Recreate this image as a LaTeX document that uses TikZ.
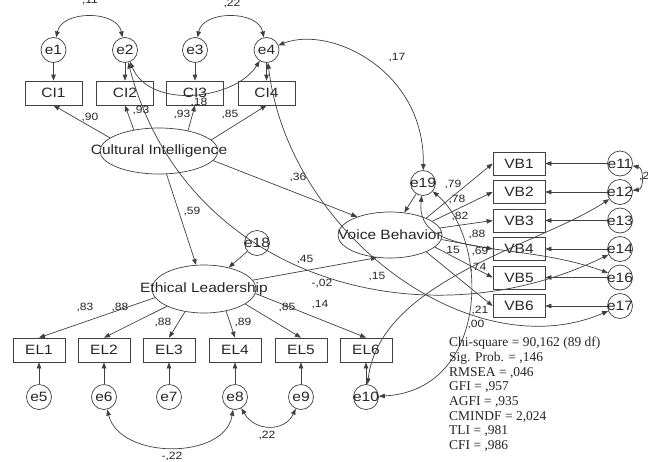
\documentclass[tikz,border=0pt]{standalone}
\usepackage{fontspec}
\setmainfont{Liberation Sans}[FakeStretch=1.15]
\newfontfamily\statfont{Liberation Serif}
\usetikzlibrary{arrows.meta,shapes.geometric}
\definecolor{lc}{HTML}{404040}
\definecolor{txt}{HTML}{262626}
\begin{document}
\begin{tikzpicture}[x=1pt,y=-1pt,
  every node/.style={text=txt},
  ln/.style={draw=lc, line width=0.7pt},
  tip/.style={-{Triangle[length=6pt,width=4.5pt]}},
  cov/.style={{Triangle[length=6pt,width=4.5pt]}-{Triangle[length=6pt,width=4.5pt]}},
  lbl/.style={font=\fontsize{13.5}{15}\selectfont, inner sep=0pt, text=txt},
  obs/.style={draw=lc, line width=0.7pt, minimum width=#1, minimum height=24pt, inner sep=0pt, font=\fontsize{13.5}{15}\selectfont},
  err/.style={circle, draw=lc, line width=0.7pt, minimum size=25pt, inner sep=0pt},
  lat/.style={ellipse, draw=lc, line width=0.7pt, inner sep=0pt},
  num/.style={font=\fontsize{10.5}{12}\selectfont, inner sep=0pt},
]
\useasboundingbox (0,0) rectangle (648,461);
\fill[white] (0,0) rectangle (648,461);

% ---------- Cultural Intelligence block ----------
\node[obs=57pt] (CI1) at (53.5,93) {CI1};
\node[obs=57pt] (CI2) at (125,93) {CI2};
\node[obs=57pt] (CI3) at (195,93) {CI3};
\node[obs=57pt] (CI4) at (266.5,93) {CI4};
\node[err, label={[lbl]center:e1}] (e1) at (53.5,50) {};
\node[err, label={[lbl]center:e2}] (e2) at (125,50) {};
\node[err, label={[lbl]center:e3}] (e3) at (195,50) {};
\node[err, label={[lbl]center:e4}] (e4) at (266.5,50) {};
\node[lat, minimum width=118pt, minimum height=46pt,
      label={[lbl,font=\fontsize{13.5}{15}\selectfont]center:Cultural Intelligence}] (CI) at (159,151) {};

% ---------- Ethical Leadership block ----------
\node[lat, minimum width=104pt, minimum height=48pt,
      label={[lbl,font=\fontsize{13.5}{15}\selectfont]center:Ethical Leadership}] (EL) at (204,289) {};
\node[obs=52pt] (EL1) at (39,350) {EL1};
\node[obs=52pt] (EL2) at (104,350) {EL2};
\node[obs=52pt] (EL3) at (169,350) {EL3};
\node[obs=52pt] (EL4) at (235,350) {EL4};
\node[obs=52pt] (EL5) at (301,350) {EL5};
\node[obs=52pt] (EL6) at (366,350) {EL6};
\node[err, label={[lbl]center:e5}] (e5) at (39,397) {};
\node[err, label={[lbl]center:e6}] (e6) at (104,397) {};
\node[err, label={[lbl]center:e7}] (e7) at (169,397) {};
\node[err, label={[lbl]center:e8}] (e8) at (235,397) {};
\node[err, label={[lbl]center:e9}] (e9) at (301,397) {};
\node[err, label={[lbl]center:e10}] (e10) at (366,397) {};
\node[err, label={[lbl]center:e18}] (e18) at (257,243) {};

% ---------- Voice Behavior block ----------
\node[lat, minimum width=104pt, minimum height=46pt,
      label={[lbl,font=\fontsize{13.5}{15}\selectfont]center:Voice Behavior}] (VB) at (390,235) {};
\node[err, label={[lbl]center:e19}] (e19) at (423,183) {};
\node[obs=52pt, minimum height=23pt] (VB1) at (519,163.5) {VB1};
\node[obs=52pt, minimum height=23pt] (VB2) at (519,192) {VB2};
\node[obs=52pt, minimum height=23pt] (VB3) at (519,220.5) {VB3};
\node[obs=52pt, minimum height=23pt] (VB4) at (519,249) {VB4};
\node[obs=52pt, minimum height=23pt] (VB5) at (519,277.5) {VB5};
\node[obs=52pt, minimum height=23pt] (VB6) at (519,306) {VB6};
\node[err, label={[lbl]center:e11}] (e11) at (620,163.5) {};
\node[err, label={[lbl]center:e12}] (e12) at (620,192) {};
\node[err, label={[lbl]center:e13}] (e13) at (620,220.5) {};
\node[err, label={[lbl]center:e14}] (e14) at (620,249) {};
\node[err, label={[lbl]center:e16}] (e16) at (620,277.5) {};
\node[err, label={[lbl]center:e17}] (e17) at (620,306) {};

% ---------- error -> indicator arrows ----------
\foreach \e/\b in {e1/CI1,e2/CI2,e3/CI3,e4/CI4,e5/EL1,e6/EL2,e7/EL3,e8/EL4,e9/EL5,e10/EL6,
                   e11/VB1,e12/VB2,e13/VB3,e14/VB4,e16/VB5,e17/VB6}
  \draw[ln,tip] (\e) -- (\b);

% ---------- loadings ----------
\draw[ln,tip] (CI.165) -- (CI1.south);
\draw[ln,tip] (CI.140) -- (CI2.south);
\draw[ln,tip] (CI.35) -- (CI3.south);
\draw[ln,tip] (CI.12) -- (CI4.south);
\draw[ln,tip] (EL.190) -- (EL1.north);
\draw[ln,tip] (EL.205) -- (EL2.north);
\draw[ln,tip] (EL.230) -- (EL3.north);
\draw[ln,tip] (EL.315) -- (EL4.north);
\draw[ln,tip] (EL.340) -- (EL5.north);
\draw[ln,tip] (EL.355) -- (EL6.north);
\draw[ln,tip] (VB.25) -- (VB1.west);
\draw[ln,tip] (VB.18) -- (VB2.west);
\draw[ln,tip] (VB.8) -- (VB3.west);
\draw[ln,tip] (VB.-5) -- (VB4.west);
\draw[ln,tip] (VB.-15) -- (VB5.west);
\draw[ln,tip] (VB.-25) -- (VB6.west);

% ---------- structural paths ----------
\draw[ln,tip] (CI) -- (EL);
\draw[ln,tip] (CI.-10) -- (VB.151);
\draw[ln,tip] (EL) -- (VB.-120);
\draw[ln,tip] (e18) -- (EL);
\draw[ln,tip] (e19) -- (VB);

% ---------- covariances ----------
\draw[ln,cov] (e1) .. controls (62,10) and (117,10) .. (e2);
\draw[ln,cov] (e3) .. controls (203,10) and (258,10) .. (e4);
\draw[ln,cov] (e2) .. controls (150,110) and (235,100) .. (e4);
\draw[ln,cov] (e4) .. controls (330,25) and (425,70) .. (e19);
\draw[ln,cov] (e4) .. controls (288,232) and (470,370) .. (e17);
\draw[ln,cov] (e2) .. controls (185,280) and (424,345) .. (e14);
\draw[ln,cov] (e19) .. controls (490,240) and (490,390) .. (e10);
\draw[ln,cov] (e19) .. controls (415,260) and (520,240) .. (e16);
\draw[ln,cov] (e10) .. controls (380,280) and (540,245) .. (e12);
\draw[ln,cov] (e11) .. controls (644,168) and (644,189) .. (e12);
\draw[ln,cov] (e6) .. controls (120,460) and (225,460) .. (e8);
\draw[ln,cov] (e8) .. controls (255,432) and (285,432) .. (e9);

% ---------- numbers ----------
\node[num] (n1) at (90,1) {,11};
\node[num] (n2) at (232,4) {,22};
\node[num] (n3) at (90,118) {,90};
\node[num] (n4) at (141,111) {,93};
\node[num] (n5) at (182,115) {,93};
\node[num] (n6) at (199,103) {,18};
\node[num] (n7) at (230,115) {,85};
\node[num] (n8) at (397,58) {,17};
\node[num] (n9) at (298,178) {,36};
\node[num] (n10) at (192,212) {,59};
\node[num] (n11) at (305,260) {,45};
\node[num] (n12) at (322,284) {-,02};
\node[num] (n13) at (377,277) {,15};
\node[num] (n14) at (85,308) {,83};
\node[num] (n15) at (120,308) {,88};
\node[num] (n16) at (163,323) {,88};
\node[num] (n17) at (243,323) {,89};
\node[num] (n18) at (287,308) {,85};
\node[num] (n19) at (320,305) {,14};
\node[num] (n20) at (172,456) {-,22};
\node[num] (n21) at (267,435) {,22};
\node[num] (n22) at (453,185) {,79};
\node[num] (n23) at (457,200) {,78};
\node[num] (n24) at (460,217) {,82};
\node[num] (n25) at (477,235) {,88};
\node[num] (n26) at (480,252) {,69};
\node[num] (n27) at (478,268) {,74};
\node[num] (n28) at (453,250) {15};
\node[num] (n29) at (480,311) {,21};
\node[num] (n30) at (476,324) {,00};
\node[num, anchor=west] (n31) at (639,177) {,22};

% ---------- fit statistics ----------
\node[anchor=north west, inner sep=0pt, align=left,
      font=\statfont\fontsize{13.5}{14.7}\selectfont] (fit) at (449,337)
{Chi-square = 90,162 (89 df)\\
Sig. Prob. = ,146\\
RMSEA = ,046\\
GFI = ,957\\
AGFI = ,935\\
CMINDF = 2,024\\
TLI = ,981\\
CFI = ,986};
\end{tikzpicture}
\end{document}
